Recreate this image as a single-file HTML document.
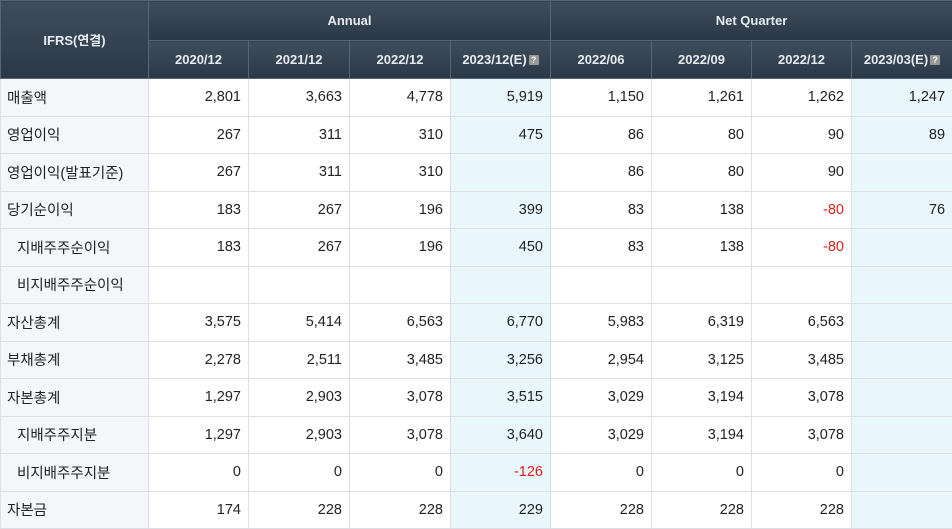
<!DOCTYPE html>
<html><head><meta charset="utf-8"><style>
body{margin:0;width:952px;height:526px;overflow:hidden;background:#fff;font-family:"Liberation Sans","Noto Sans CJK KR",sans-serif;}
table{border-collapse:collapse;table-layout:fixed;width:952px;}
th{background:linear-gradient(#3e4d5d,#2b3746);color:#e6ebf0;font-size:13px;font-weight:bold;border:1px solid #56657a;padding:0;}
td{border:1px solid #dcdfe3;font-size:14.5px;color:#222;text-align:right;padding:0 7px 0 0;height:36.5px;}
td.l{text-align:left;padding-left:6px;background:#f4f6f9;}
td.i{padding-left:16px;}
td.e{background:#e9f6fb;}
.neg{color:#e0201b;}
.q{display:inline-block;width:10px;height:10px;background:#999;color:#fff;font-size:9px;line-height:10px;text-align:center;border-radius:1px;vertical-align:1px;margin-left:2px;}
</style></head><body>
<table>
<colgroup><col style="width:148px"><col style="width:100px"><col style="width:101px"><col style="width:101px"><col style="width:100px"><col style="width:101px"><col style="width:100px"><col style="width:100px"><col style="width:101px"></colgroup>
<tr style="height:40px"><th rowspan="2">IFRS(연결)</th><th colspan="4">Annual</th><th colspan="4">Net Quarter</th></tr>
<tr style="height:38px">
<th>2020/12</th><th>2021/12</th><th>2022/12</th><th>2023/12(E)<span class="q">?</span></th>
<th>2022/06</th><th>2022/09</th><th>2022/12</th><th>2023/03(E)<span class="q">?</span></th></tr>
<tbody id="b"></tbody>
</table>
<script>
const rows=[
["매출액",0,["2,801","3,663","4,778","5,919","1,150","1,261","1,262","1,247"]],
["영업이익",0,["267","311","310","475","86","80","90","89"]],
["영업이익(발표기준)",0,["267","311","310","","86","80","90",""]],
["당기순이익",0,["183","267","196","399","83","138","-80","76"]],
["지배주주순이익",1,["183","267","196","450","83","138","-80",""]],
["비지배주주순이익",1,["","","","","","","",""]],
["자산총계",0,["3,575","5,414","6,563","6,770","5,983","6,319","6,563",""]],
["부채총계",0,["2,278","2,511","3,485","3,256","2,954","3,125","3,485",""]],
["자본총계",0,["1,297","2,903","3,078","3,515","3,029","3,194","3,078",""]],
["지배주주지분",1,["1,297","2,903","3,078","3,640","3,029","3,194","3,078",""]],
["비지배주주지분",1,["0","0","0","-126","0","0","0",""]],
["자본금",0,["174","228","228","229","228","228","228",""]]
];
const b=document.getElementById('b');
rows.forEach(r=>{
 const tr=document.createElement('tr');
 
 
 const th=document.createElement('td');
 th.className='l'+(r[1]?' i':'');
 th.textContent=r[0];
 
 
 tr.appendChild(th);
 r[2].forEach((v,i)=>{
  const td=document.createElement('td');
  if(i==3||i==7)td.className='e';
  if(v.startsWith('-'))td.classList.add('neg');
  td.textContent=v;
  
  
  tr.appendChild(td);
 });
 b.appendChild(tr);
});
</script>
</body></html>
